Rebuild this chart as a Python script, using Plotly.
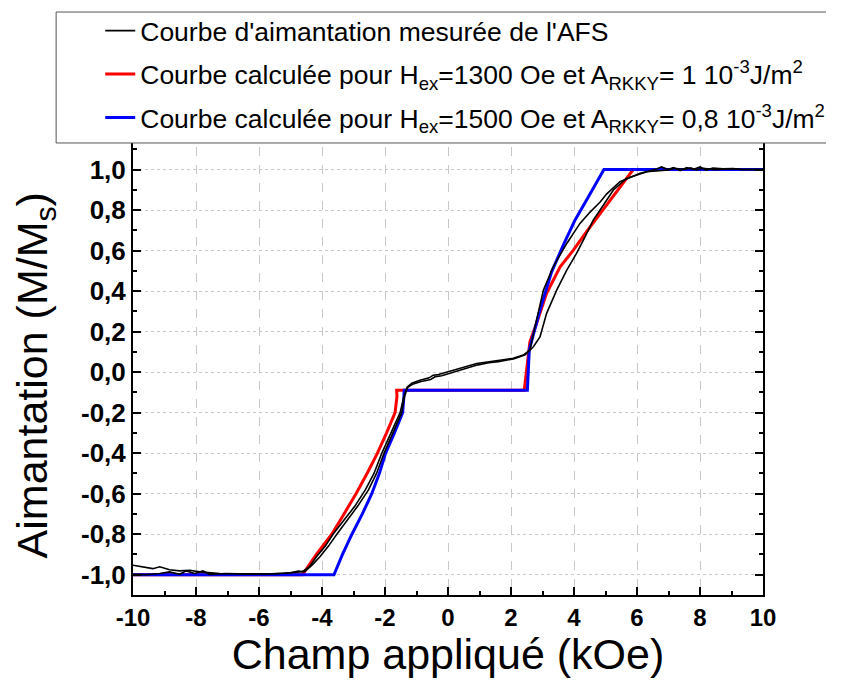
import plotly.graph_objects as go

meas_up_x = [-10, -9.68, -9.37, -9.15, -8.84, -8.52, -8.2, -7.88, -7.57, -7.25, -6.5, -5.8, -5.2, -4.9, -4.62,
             -4.4, -4.17, -3.9, -3.65, -3.3, -2.95, -2.62, -2.35, -2.1, -1.8, -1.52, -1.4, -1.3, -1.15, -0.89,
             -0.6, -0.47, -0.3, 0.01, 0.25, 0.49, 0.91, 1.25, 1.55, 2.07, 2.39, 2.6, 2.81, 3.03, 3.34, 3.77,
             4.19, 4.51, 4.83, 5.04, 5.46, 6.1, 6.62, 6.78, 6.99, 7.15, 7.37, 7.58, 7.78, 8.0, 8.2, 8.41,
             8.73, 9.04, 9.35, 9.67, 10]
meas_up_y = [-0.953, -0.961, -0.97, -0.961, -0.975, -0.981, -0.978, -0.986, -0.99, -0.994, -0.995, -0.996,
             -0.993, -0.99, -0.985, -0.96, -0.91, -0.86, -0.8, -0.73, -0.66, -0.58, -0.5, -0.4, -0.3, -0.2,
             -0.12, -0.075, -0.055, -0.04, -0.028, -0.015, -0.012, 0.002, 0.012, 0.026, 0.043, 0.05, 0.056,
             0.068, 0.084, 0.11, 0.257, 0.405, 0.52, 0.635, 0.734, 0.79, 0.84, 0.88, 0.94, 0.981, 1.003,
             1.013, 1.0, 1.01, 0.995, 1.01, 1.0, 1.013, 0.997, 1.007, 1.003, 1.005, 1.0, 1.0, 1.0]

meas_dn_x = [-10, -9.58, -9.15, -8.84, -8.52, -8.31, -8.04, -7.78, -7.57, -7.04, -6.3, -5.5, -5.0, -4.75,
             -4.55, -4.3, -4.06, -3.8, -3.53, -3.2, -2.86, -2.52, -2.27, -2.03, -1.74, -1.47, -1.38, -1.28,
             -1.1, -0.85, -0.55, -0.4, -0.2, 0.05, 0.3, 0.55, 0.95, 1.3, 1.6, 2.1, 2.45, 2.71, 2.92, 3.13,
             3.45, 3.77, 4.08, 4.35, 4.61, 4.83, 5.25, 5.67, 6.31, 7.0, 7.2, 7.5, 7.7, 7.9, 8.1, 8.5, 8.9,
             9.3, 10]
meas_dn_y = [-0.998, -1.0, -0.994, -0.986, -0.998, -0.981, -0.994, -0.981, -0.998, -0.994, -0.997, -0.995,
             -0.99, -0.982, -0.985, -0.95, -0.91, -0.86, -0.8, -0.73, -0.66, -0.58, -0.5, -0.4, -0.3, -0.2,
             -0.12, -0.075, -0.058, -0.046, -0.036, -0.022, -0.018, -0.006, 0.006, 0.018, 0.036, 0.046,
             0.052, 0.066, 0.085, 0.125, 0.174, 0.29, 0.405, 0.504, 0.586, 0.668, 0.75, 0.8, 0.899, 0.956,
             0.989, 0.998, 1.006, 1.0, 1.008, 0.998, 1.006, 0.999, 1.004, 1.0, 1.0]

# calculated curves
red_x = [-10, -4.62, -4.18, -3.69, -3.3, -2.92, -2.57, -2.24, -1.95, -1.68, -1.62, -1.63, 2.42, 2.6, 2.81,
         3.13, 3.56, 3.98, 4.4, 4.83, 5.3, 5.88, 10]
red_y = [-1, -1, -0.9, -0.8, -0.7, -0.6, -0.5, -0.4, -0.3, -0.2, -0.12, -0.09, -0.09, 0.15, 0.24,
         0.389, 0.52, 0.602, 0.693, 0.784, 0.88, 1.0, 1.0]

blue_x = [-10, -3.62, -3.35, -3.05, -2.72, -2.42, -2.18, -1.98, -1.7, -1.44, -1.4, -1.39, 2.52, 2.56, 2.58,
          2.92, 3.29, 3.66, 4.03, 4.4, 4.95, 10]
blue_y = [-1, -1, -0.9, -0.8, -0.7, -0.6, -0.5, -0.4, -0.3, -0.2, -0.12, -0.09, -0.09, 0.05, 0.11,
          0.306, 0.495, 0.627, 0.75, 0.849, 1.0, 1.0]

x_tick_vals = [-10, -8, -6, -4, -2, 0, 2, 4, 6, 8, 10]
x_tick_text = ['-10', '-8', '-6', '-4', '-2', '0', '2', '4', '6', '8', '10']
y_tick_vals = [-1.0, -0.8, -0.6, -0.4, -0.2, 0.0, 0.2, 0.4, 0.6, 0.8, 1.0]
y_tick_text = ['-1,0', '-0,8', '-0,6', '-0,4', '-0,2', '0,0', '0,2', '0,4', '0,6', '0,8', '1,0']

name_meas = "Courbe d'aimantation mesurée de l'AFS"
name_red = "Courbe calculée pour H<sub>ex</sub>=1300 Oe et A<sub>RKKY</sub>= 1 10<sup>-3</sup>J/m<sup>2</sup>"
name_blue = "Courbe calculée pour H<sub>ex</sub>=1500 Oe et A<sub>RKKY</sub>= 0,8 10<sup>-3</sup>J/m<sup>2</sup>"
y_title = 'Aimantation (M/M<sub>s</sub>)'
x_title = 'Champ appliqué (kOe)'

font = 'Liberation Sans, Arial, sans-serif'

fig = go.Figure()
# coloured curves first so the measured loop sits on top
fig.add_trace(go.Scatter(x=red_x, y=red_y, mode='lines', name=name_red, legendgroup='r', legendrank=2,
                         line=dict(color='#ff0000', width=3)))
fig.add_trace(go.Scatter(x=blue_x, y=blue_y, mode='lines', name=name_blue, legendgroup='b', legendrank=3,
                         line=dict(color='#0000ff', width=3)))
fig.add_trace(go.Scatter(x=meas_up_x, y=meas_up_y, mode='lines', name=name_meas, legendgroup='m',
                         legendrank=1, line=dict(color='black', width=1.6)))
fig.add_trace(go.Scatter(x=meas_dn_x, y=meas_dn_y, mode='lines', name=name_meas, legendgroup='m',
                         legendrank=1, showlegend=False, line=dict(color='black', width=1.6)))

axis_common = dict(showline=True, linecolor='black', linewidth=2, mirror='allticks',
                   ticks='inside', ticklen=8, tickwidth=2, tickcolor='black',
                   zeroline=False, gridcolor='#c8c8c8', gridwidth=1)

fig.update_xaxes(range=[-10, 10], tickvals=x_tick_vals, ticktext=x_tick_text,
                 griddash='dash',
                 tickfont=dict(family=font, size=24, color='black', weight='bold'),
                 minor=dict(ticks='inside', ticklen=4, tickwidth=2, tickcolor='black', dtick=1, showgrid=False),
                 title=dict(text=x_title, font=dict(family=font, size=43, color='black'), standoff=8),
                 **axis_common)
fig.update_yaxes(range=[-1.1, 1.2], tickvals=y_tick_vals, ticktext=y_tick_text,
                 griddash='dot',
                 tickfont=dict(family=font, size=26, color='black', weight='bold'),
                 minor=dict(ticks='inside', ticklen=4, tickwidth=2, tickcolor='black', dtick=0.1,
                            tick0=-1.1, showgrid=False),
                 **axis_common)

# y title as annotation, centred on the visible part of the frame
fig.add_annotation(text=y_title, xref='paper', yref='paper', x=-0.155, y=0.472, xanchor='center',
                   yanchor='middle', textangle=-90, showarrow=False,
                   font=dict(family=font, size=43, color='black'))

# legend frame: white panel with left/top/bottom borders, running off the page on the right
fig.add_shape(type='rect', xref='paper', yref='paper', x0=-0.122, x1=1.1, y0=0.970, y1=1.251,
              fillcolor='white', line=dict(width=0), layer='above')
frame_line = dict(color='#555555', width=1)
fig.add_shape(type='line', xref='paper', yref='paper', x0=-0.122, x1=1.1, y0=1.251, y1=1.251,
              line=frame_line, layer='above')
fig.add_shape(type='line', xref='paper', yref='paper', x0=-0.122, x1=1.1, y0=0.970, y1=0.970,
              line=frame_line, layer='above')
fig.add_shape(type='line', xref='paper', yref='paper', x0=-0.122, x1=-0.122, y0=0.970, y1=1.251,
              line=frame_line, layer='above')

# page body keeps an 8 px margin, so the figure is sized to fit inside the window
fig.update_layout(
    width=826, height=670,
    margin=dict(l=125, r=71, t=121, b=83, autoexpand=False),
    paper_bgcolor='white', plot_bgcolor='white',
    showlegend=True,
    legend=dict(x=-0.052, y=1.262, xanchor='left', yanchor='top', bgcolor='rgba(0,0,0,0)',
                borderwidth=0, font=dict(family=font, size=26.5, color='black'),
                itemwidth=30, traceorder='grouped', tracegroupgap=6),
)

fig.write_html("out.html")
